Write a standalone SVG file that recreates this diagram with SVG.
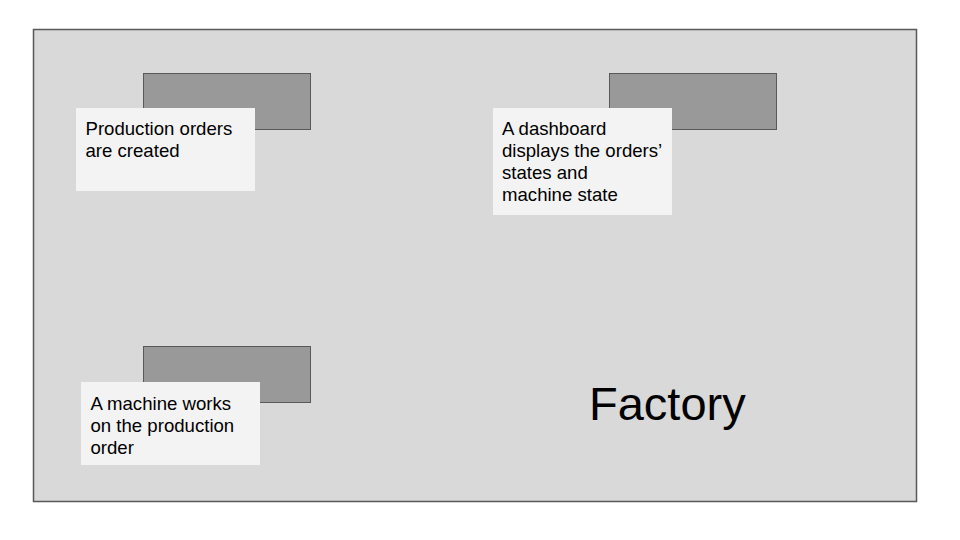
<svg xmlns="http://www.w3.org/2000/svg" width="960" height="540" viewBox="0 0 960 540">
<style>
.dark{fill:#999999;stroke:#595959;stroke-width:1}
.card{fill:#f3f3f3;stroke:none}
.lbl{font-family:"Liberation Sans",Arial,sans-serif;font-size:18.6px;fill:#000}
.big{font-family:"Liberation Sans",Arial,sans-serif;font-size:47px;fill:#000}
</style>
<rect width="960" height="540" fill="#ffffff"/>
<g id="factory">
<rect x="33.5" y="29.5" width="883" height="472" fill="#d9d9d9" stroke="#595959" stroke-width="1.5"/>
<text class="big" x="589" y="419.5">Factory</text>
</g>
<g id="connectors"></g>
<g id="node-orders">
<rect class="dark" x="143.5" y="73.5" width="167" height="56"/>
<rect class="card" x="76" y="108" width="179" height="83"/>
<text class="lbl" x="85.5" y="135">Production orders</text>
<text class="lbl" x="85.5" y="157.3">are created</text>
</g>
<g id="node-dashboard">
<rect class="dark" x="609.5" y="73.5" width="167" height="56"/>
<rect class="card" x="493" y="108" width="179" height="107"/>
<text class="lbl" x="502" y="135">A dashboard</text>
<text class="lbl" x="502" y="157">displays the orders’</text>
<text class="lbl" x="502" y="179">states and</text>
<text class="lbl" x="502" y="201">machine state</text>
</g>
<g id="node-machine">
<rect class="dark" x="143.5" y="346.5" width="167" height="56"/>
<rect class="card" x="81" y="382" width="179" height="83"/>
<text class="lbl" x="90.5" y="410">A machine works</text>
<text class="lbl" x="90.5" y="432">on the production</text>
<text class="lbl" x="90.5" y="454">order</text>
</g>
</svg>
